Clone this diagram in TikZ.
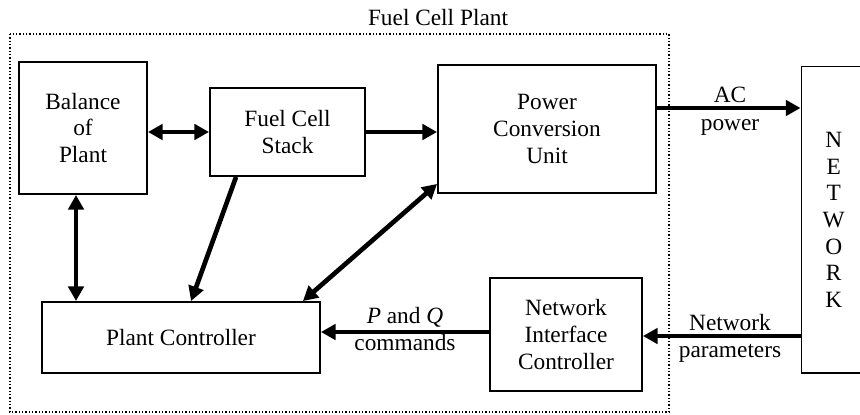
\documentclass[tikz,border=0pt]{standalone}
\usepackage{fontspec}
\setmainfont{Liberation Serif}
\usetikzlibrary{arrows.meta,calc}
\begin{document}
\begin{tikzpicture}[x=0.75pt,y=-0.75pt,
  every node/.style={font=\fontsize{17.5}{20}\selectfont},
  box/.style={draw, line width=1.4pt, inner sep=0pt, align=center},
  lbl/.style={anchor=base, inner sep=0pt},
  plantframe/.style={line width=1pt, dash pattern=on 1pt off 1.5pt},
  arr/.style={line width=3.5pt, -{Triangle[length=11pt,width=11.5pt]}},
  arrtwo/.style={line width=3.5pt, {Triangle[length=11pt,width=11.5pt]}-{Triangle[length=11pt,width=11.5pt]}}]
\useasboundingbox (0,0) rectangle (860,414);

% plant boundary and its title
\draw[plantframe] (10,34) rectangle (669,412);
\node[lbl] (title) at (438,25) {Fuel Cell Plant};

% blocks
\node[box, minimum width=96pt, minimum height=99pt] (bop) at (83,128) {Balance\\of\\Plant};
\node[box, minimum width=116.25pt, minimum height=66pt] (fcs) at (287.5,132) {Fuel Cell\\Stack};
\node[box, minimum width=163.5pt, minimum height=96pt] (pcu) at (547,129) {Power\\Conversion\\Unit};
\node[box, minimum width=48.4pt, minimum height=229.9pt] (net) at (833.75,219.75) {N\\E\\T\\W\\O\\R\\K};
\node[box, minimum width=208.5pt, minimum height=53.25pt] (pc) at (181,337.5) {Plant Controller};
\node[box, minimum width=114pt, minimum height=84.75pt] (nic) at (566,334.5) {Network\\Interface\\Controller};

% helper levels for connectors
\coordinate (yac) at (0,108);
\coordinate (xbp) at (76,0);
\coordinate (ypq) at (0,332);
\coordinate (ynp) at (0,336);

% connectors
\draw[arrtwo] (fcs.west -| bop.east) -- (fcs.west);
\draw[arr] (fcs.east) -- (fcs.east -| pcu.west);
\draw[arr] (pcu.east |- yac) -- (net.west |- yac);
\draw[arrtwo] (bop.south -| xbp) -- (pc.north -| xbp);
\draw[arr] ([xshift=20.25pt]fcs.south west) -- ([xshift=112.5pt]pc.north west);
\draw[arrtwo] ([yshift=7.5pt]pcu.south west) -- ([xshift=-13.5pt]pc.north east);
\draw[arr] (nic.west |- ypq) -- (pc.east |- ypq);
\draw[arr] (net.west |- ynp) -- (nic.east |- ynp);

% connector labels
\node[lbl] (acl) at (730,102) {AC};
\node[lbl] (pwl) at (730,130) {power};
\node[lbl] (pql) at (405,323) {\textit{P} and \textit{Q}};
\node[lbl] (cml) at (405,350) {commands};
\node[lbl] (nwl) at (730,330) {Network};
\node[lbl] (prl) at (730,357) {parameters};
\end{tikzpicture}
\end{document}
